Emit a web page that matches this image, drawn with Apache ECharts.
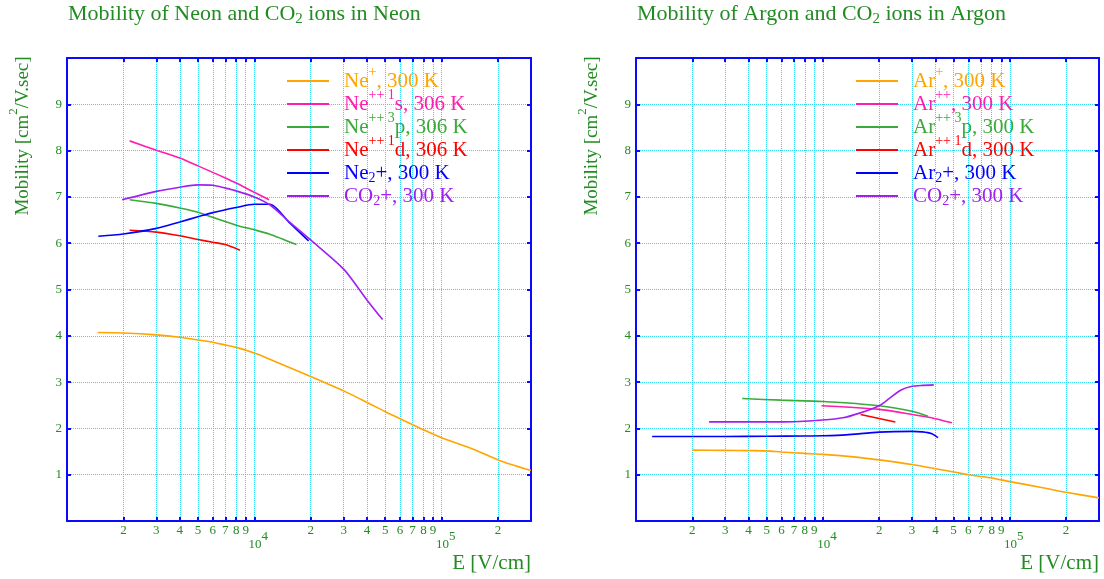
<!DOCTYPE html>
<html><head><meta charset="utf-8">
<script src="https://cdn.jsdelivr.net/npm/echarts@6/dist/echarts.min.js"></script>
<style>html,body{margin:0;padding:0;background:#fff}#c{width:1104px;height:579px}</style>
</head><body><div id="c"></div>
<script>
// ---------- Neon panel: E [V/cm] and mobility [cm2/V.sec] ----------
const neP_E   = [1460, 2000, 3000, 4000, 5000, 6000, 7000, 8000, 10000, 12000, 20000, 30000, 40000, 50000, 60000, 80000, 100000, 150000, 200000, 300000];
const neP_V   = [4.07, 4.06, 4.02, 3.97, 3.91, 3.86, 3.80, 3.75, 3.63, 3.50, 3.12, 2.81, 2.56, 2.36, 2.21, 1.97, 1.80, 1.54, 1.32, 1.09];
const ne1s_E  = [2160, 3000, 4000, 5000, 6000, 7000, 8000, 10000, 12000];
const ne1s_V  = [8.21, 8.01, 7.84, 7.67, 7.53, 7.41, 7.30, 7.10, 6.94];
const ne3p_E  = [2160, 3000, 4000, 5000, 6000, 8000, 10000, 12000, 16800];
const ne3p_V  = [6.94, 6.86, 6.76, 6.67, 6.56, 6.39, 6.29, 6.20, 5.97];
const ne1d_E  = [2160, 3000, 4000, 5000, 6000, 7000, 8380];
const ne1d_V  = [6.28, 6.24, 6.16, 6.08, 6.02, 5.97, 5.85];
const ne2_E   = [1470, 2000, 3000, 4000, 5000, 6000, 8000, 10000, 12100, 15500, 19500];
const ne2_V   = [6.15, 6.20, 6.32, 6.46, 6.57, 6.66, 6.77, 6.84, 6.84, 6.43, 6.05];
const co2Ne_E = [1970, 3000, 4000, 5000, 6000, 7000, 8000, 10000, 12100, 15500, 20000, 30000, 40000, 48400];
const co2Ne_V = [6.94, 7.12, 7.21, 7.26, 7.25, 7.19, 7.13, 7.00, 6.83, 6.45, 6.07, 5.44, 4.77, 4.35];

// ---------- Argon panel ----------
const arP_E   = [2000, 3000, 4000, 5000, 6000, 8000, 10000, 15000, 20000, 30000, 40000, 50000, 60000, 80000, 100000, 150000, 200000, 300000];
const arP_V   = [1.53, 1.525, 1.52, 1.515, 1.49, 1.46, 1.44, 1.38, 1.32, 1.22, 1.13, 1.06, 1.00, 0.93, 0.85, 0.72, 0.62, 0.50];
const arPP_E  = [9840, 20000, 30000, 40000, 49000];
const arPP_V  = [2.49, 2.41, 2.30, 2.21, 2.12];
const ar3p_E  = [3700, 6000, 10000, 20000, 30000, 36500];
const ar3p_V  = [2.645, 2.61, 2.58, 2.49, 2.37, 2.26];
const ar1d_E  = [15900, 24400];
const ar1d_V  = [2.30, 2.14];
const ar2_E   = [1220, 3000, 5000, 8000, 10000, 13300, 20000, 30000, 34000, 38000, 41300];
const ar2_V   = [1.826, 1.826, 1.83, 1.835, 1.84, 1.86, 1.92, 1.935, 1.925, 1.89, 1.80];
const co2Ar_E = [2460, 5000, 7000, 10000, 12800, 15700, 20000, 22700, 26200, 30000, 34200, 39200];
const co2Ar_V = [2.14, 2.14, 2.145, 2.18, 2.23, 2.33, 2.49, 2.65, 2.83, 2.91, 2.93, 2.94];

// ---------- ticks ----------
const xTickValues = [2000, 3000, 4000, 5000, 6000, 7000, 8000, 9000, 10000, 20000, 30000, 40000, 50000, 60000, 70000, 80000, 90000, 100000, 200000];
const xTickLabels = ['2', '3', '4', '5', '6', '7', '8', '9', '10^4', '2', '3', '4', '5', '6', '7', '8', '9', '10^5', '2'];
const yTickLabels = [1, 2, 3, 4, 5, 6, 7, 8, 9];

// ---------- styling ----------
const FONT = '"Liberation Serif", "DejaVu Serif", serif';
const TXT = '#228b22';
const FRAME = '#0a0aff';
const GRIDC = '#2fd8f0';
const COLORS = ['#ffa500', '#ff1cb0', '#3aaa3a', '#ff0000', '#0000ff', '#a020f0'];

const seriesDefs = [
  {name: 'neP',   g: 0, E: neP_E,   V: neP_V,   parts: [['t','Ne'],['u','+'],['t',', 300 K']]},
  {name: 'ne1s',  g: 0, E: ne1s_E,  V: ne1s_V,  parts: [['t','Ne'],['u','++ 1'],['t','s, 306 K']]},
  {name: 'ne3p',  g: 0, E: ne3p_E,  V: ne3p_V,  parts: [['t','Ne'],['u','++ 3'],['t','p, 306 K']]},
  {name: 'ne1d',  g: 0, E: ne1d_E,  V: ne1d_V,  parts: [['t','Ne'],['u','++ 1'],['t','d, 306 K']]},
  {name: 'ne2',   g: 0, E: ne2_E,   V: ne2_V,   parts: [['t','Ne'],['l','2'],['t','+, 300 K']]},
  {name: 'co2Ne', g: 0, E: co2Ne_E, V: co2Ne_V, parts: [['t','CO'],['l','2'],['t','+, 300 K']]},
  {name: 'arP',   g: 1, E: arP_E,   V: arP_V,   parts: [['t','Ar'],['u','+'],['t',', 300 K']]},
  {name: 'arPP',  g: 1, E: arPP_E,  V: arPP_V,  parts: [['t','Ar'],['u','++'],['t',', 300 K']]},
  {name: 'ar3p',  g: 1, E: ar3p_E,  V: ar3p_V,  parts: [['t','Ar'],['u','++ 3'],['t','p, 300 K']]},
  {name: 'ar1d',  g: 1, E: ar1d_E,  V: ar1d_V,  parts: [['t','Ar'],['u','++ 1'],['t','d, 300 K']]},
  {name: 'ar2',   g: 1, E: ar2_E,   V: ar2_V,   parts: [['t','Ar'],['l','2'],['t','+, 300 K']]},
  {name: 'co2Ar', g: 1, E: co2Ar_E, V: co2Ar_V, parts: [['t','CO'],['l','2'],['t','+, 300 K']]}
];

// legend rich styles
const legendRich = {g: {width: 10, lineHeight: 32, fontSize: 21, fontFamily: FONT}};
const legendText = {};
seriesDefs.forEach((s, i) => {
  const c = COLORS[i % 6];
  legendRich['t' + i] = {color: c, fontSize: 21, fontFamily: FONT, fontWeight: 'normal', lineHeight: 32};
  legendRich['u' + i] = {color: c, fontSize: 14, fontFamily: FONT, fontWeight: 'normal', lineHeight: 14, padding: [0, 0, 18, 0]};
  legendRich['l' + i] = {color: c, fontSize: 14, fontFamily: FONT, fontWeight: 'normal', lineHeight: 14, padding: [14, 0, 4, 0]};
  legendText[s.name] = '{g| }' + s.parts.map(p => '{' + p[0] + i + '|' + p[1] + '}').join('');
});

function fmtX(val) {
  let idx = -1;
  for (let i = 0; i < xTickValues.length; i++) {
    if (Math.abs(xTickValues[i] - val) / val < 1e-6) { idx = i; break; }
  }
  if (idx < 0) return '';
  const lab = xTickLabels[idx];
  if (lab.indexOf('^') >= 0) {
    const p = lab.split('^');
    return '{d|' + p[0] + '}{s|' + p[1] + '}';
  }
  return '{n|' + lab + '}';
}
const xRich = {
  n: {color: TXT, fontSize: 13, fontFamily: FONT, lineHeight: 13},
  d: {color: TXT, fontSize: 13, fontFamily: FONT, lineHeight: 13, padding: [29, 0, 0, 8]},
  s: {color: TXT, fontSize: 13, fontFamily: FONT, lineHeight: 13, padding: [21, 0, 8, 0]}
};

function xAx(grid, pos, labels) {
  return {
    type: 'log', logBase: 10, gridIndex: grid, position: pos, min: 1000, max: 300000,
    axisLine: {show: true, onZero: false, lineStyle: {color: FRAME, width: 2}},
    axisTick: {show: true, inside: true, length: 4, lineStyle: {color: FRAME, width: 2}, customValues: xTickValues},
    axisLabel: labels ? {show: true, customValues: xTickValues, margin: 3, formatter: fmtX, rich: xRich} : {show: false},
    splitLine: {show: pos === 'bottom', lineStyle: {color: GRIDC, type: 'dotted', width: 1}},
    minorTick: {show: false}, minorSplitLine: {show: false}
  };
}
function yAx(grid, pos, labels) {
  return {
    type: 'value', gridIndex: grid, position: pos, min: 0, max: 10, interval: 1,
    axisLine: {show: true, onZero: false, lineStyle: {color: FRAME, width: 2}},
    axisTick: {show: true, inside: true, length: 4, lineStyle: {color: FRAME, width: 2}},
    axisLabel: labels ? {show: true, margin: 5, color: TXT, fontFamily: FONT, fontSize: 13,
      formatter: v => (yTickLabels.indexOf(v) >= 0 ? String(v) : '')} : {show: false},
    splitLine: {show: pos === 'left', lineStyle: {color: GRIDC, type: 'dotted', width: 1}}
  };
}

const titleRich = {
  a: {color: TXT, fontSize: 22, fontFamily: FONT, fontWeight: 'normal', lineHeight: 26},
  b: {color: TXT, fontSize: 15, fontFamily: FONT, fontWeight: 'normal', lineHeight: 15, padding: [11, 0, 0, 0]}
};
const yNameRich = {
  a: {fill: TXT, fontSize: 19, fontFamily: FONT, lineHeight: 31},
  b: {fill: TXT, fontSize: 13, fontFamily: FONT, lineHeight: 13, padding: [0, 0, 18, 0]}
};

function legendCfg(left, g) {
  return {
    orient: 'vertical', left: left, top: 65, padding: 0, itemGap: -9,
    itemWidth: 42, itemHeight: 2, icon: 'rect', selectedMode: false,
    data: seriesDefs.filter(s => s.g === g).map(s => s.name),
    formatter: name => legendText[name],
    textStyle: {rich: legendRich}
  };
}

const option = {
  animation: false,
  backgroundColor: '#ffffff',
  title: [
    {text: '{a|Mobility of Neon and CO}{b|2}{a| ions in Neon}', left: 68, top: 1, padding: 0,
     textStyle: {fontWeight: 'normal', fontFamily: FONT, rich: titleRich}},
    {text: '{a|Mobility of Argon and CO}{b|2}{a| ions in Argon}', left: 637, top: 1, padding: 0,
     textStyle: {fontWeight: 'normal', fontFamily: FONT, rich: titleRich}}
  ],
  grid: [
    {left: 67, top: 58, width: 464, height: 463},
    {left: 636, top: 58, width: 463, height: 463}
  ],
  xAxis: [xAx(0, 'bottom', true), xAx(0, 'top', false), xAx(1, 'bottom', true), xAx(1, 'top', false)],
  yAxis: [yAx(0, 'left', true), yAx(0, 'right', false), yAx(1, 'left', true), yAx(1, 'right', false)],
  legend: [legendCfg(287, 0), legendCfg(856, 1)],
  graphic: [
    {type: 'text', x: 23, y: 136, rotation: Math.PI / 2,
     style: {text: '{a|Mobility [cm}{b|2}{a|/V.sec]}', rich: yNameRich, align: 'center', verticalAlign: 'middle', textAlign: 'center', textVerticalAlign: 'middle'}},
    {type: 'text', x: 592, y: 136, rotation: Math.PI / 2,
     style: {text: '{a|Mobility [cm}{b|2}{a|/V.sec]}', rich: yNameRich, align: 'center', verticalAlign: 'middle', textAlign: 'center', textVerticalAlign: 'middle'}},
    {type: 'text', x: 531, y: 563,
     style: {text: 'E [V/cm]', fill: TXT, fontSize: 21, fontFamily: FONT, align: 'right', verticalAlign: 'middle', textAlign: 'right', textVerticalAlign: 'middle'}},
    {type: 'text', x: 1099, y: 563,
     style: {text: 'E [V/cm]', fill: TXT, fontSize: 21, fontFamily: FONT, align: 'right', verticalAlign: 'middle', textAlign: 'right', textVerticalAlign: 'middle'}}
  ],
  series: seriesDefs.map((s, i) => ({
    name: s.name, type: 'line',
    xAxisIndex: s.g === 0 ? 0 : 2, yAxisIndex: s.g === 0 ? 0 : 2,
    data: s.E.map((e, k) => [e, s.V[k]]),
    showSymbol: false, symbol: 'none', smooth: 0.25,
    itemStyle: {color: COLORS[i % 6]},
    lineStyle: {color: COLORS[i % 6], width: 1.6},
    z: 5
  }))
};

const chart = echarts.init(document.getElementById('c'), null, {renderer: 'canvas'});
chart.setOption(option);
</script>
</body></html>
